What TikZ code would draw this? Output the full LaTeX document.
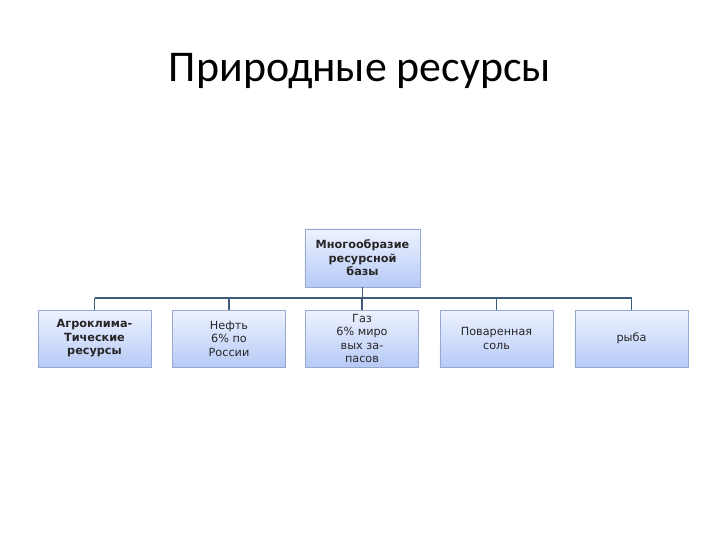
\documentclass[tikz,border=0pt]{standalone}
\usepackage{fontspec}
\setmainfont{Carlito}
\newfontfamily\boxfont{DejaVu Sans}
\usetikzlibrary{shadows}
\definecolor{cLine}{RGB}{62,92,124}
\definecolor{cEdge}{RGB}{150,168,205}
\definecolor{cTop}{RGB}{238,242,255}
\definecolor{cBot}{RGB}{182,202,246}
\tikzset{
  resbox/.style={draw=cEdge, top color=cTop, bottom color=cBot,
    minimum width=2.825cm, minimum height=1.425cm, align=center,
    font=\boxfont\fontsize{8}{9.6}\selectfont, inner sep=0pt, text=black!85,
    drop shadow={shadow xshift=0.6pt, shadow yshift=-0.8pt, fill=black!35, opacity=0.6}},
  link/.style={draw=cLine, line width=1.1pt}
}

\begin{document}
\begin{tikzpicture}[x=0.025cm, y=-0.025cm]
        \useasboundingbox (0,0) rectangle (720,540);
        \node (title) at (360,71) {\fontsize{31.2}{34}\selectfont Природные ресурсы};

        \node[resbox, minimum width=2.875cm, minimum height=1.45cm] (base) at (362.5,258) {\bfseries Многообразие\\\bfseries ресурсной\\\bfseries базы};

        \node[resbox] (agro) at (94.5,338.5) {\bfseries Агроклима-\\\bfseries Тические\\\bfseries ресурсы};
        \node[resbox] (oil) at (229,338.5) {Нефть\\6\% по\\России};
        \node[resbox] (gas) at (362,338.5) {Газ\\6\% миро\\вых за-\\пасов};
        \node[resbox] (salt) at (496.5,338.5) {Поваренная\\соль};
        \node[resbox] (fish) at (631.5,338.5) {рыба};

        \coordinate (bus) at (362.5,298);
        \draw[link] (base.south) -- (bus);
        \foreach \n in {agro,oil,gas,salt,fish}
            \draw[link] (\n.north) -- (\n.north |- bus);
        \draw[link] (agro.north |- bus) -- (fish.north |- bus);
    \end{tikzpicture}
\end{document}
